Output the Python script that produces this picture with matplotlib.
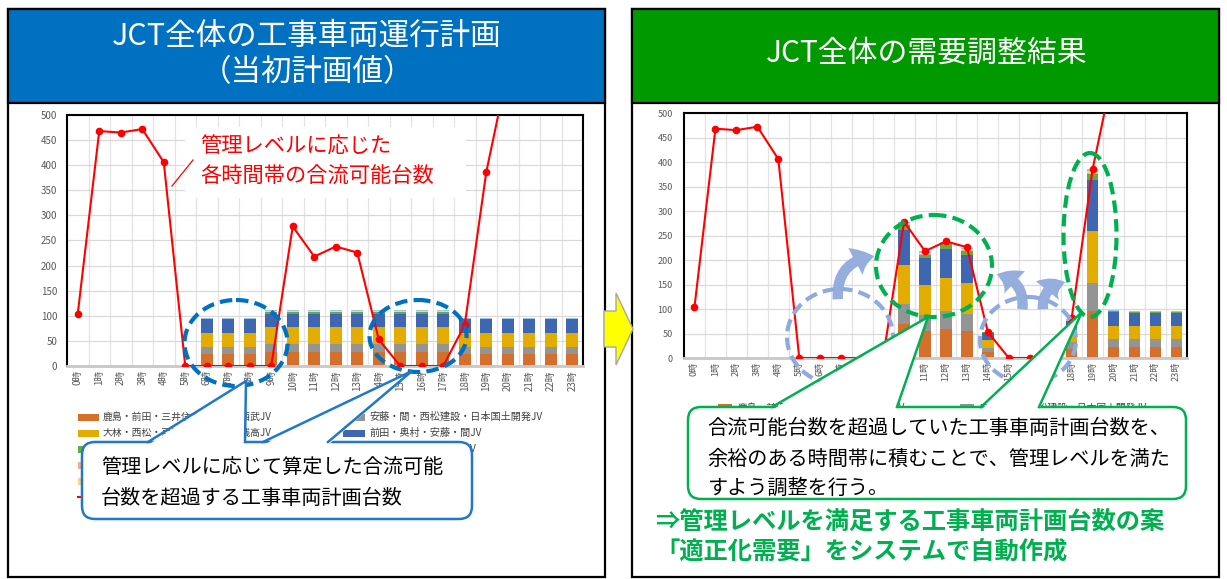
import numpy as np
import matplotlib
matplotlib.use('Agg')
import matplotlib.pyplot as plt
from matplotlib.patches import Rectangle, FancyBboxPatch, Ellipse, Polygon, FancyArrowPatch

plt.rcParams['font.family'] = ['Noto Sans CJK JP', 'DejaVu Sans']

W, H = 1227, 579

hours = [f"{h}時" for h in range(24)]

# 管理レベルに応じた各時間帯の合流可能台数
capacity = [104, 468, 465, 472, 406, 0, 0, 0, 0, 0, 278, 218, 238, 226, 53, 0,
            0, 0, 82, 386, 590, 600, 600, 600]

# JV別 工事車両計画台数（当初計画値）
plan_jv1 = [0, 0, 0, 0, 0, 0, 23, 23, 23, 28, 28, 28, 28, 28, 28, 28, 28, 28, 23, 23, 23, 23, 23, 23]
plan_jv2 = [0, 0, 0, 0, 0, 0, 15, 15, 15, 16, 16, 16, 16, 16, 16, 16, 16, 16, 15, 15, 15, 15, 15, 15]
plan_jv3 = [0, 0, 0, 0, 0, 0, 27, 27, 27, 33, 33, 33, 33, 33, 33, 33, 33, 33, 27, 27, 27, 27, 27, 27]
plan_jv4 = [0, 0, 0, 0, 0, 0, 28, 28, 28, 27, 27, 27, 27, 27, 27, 27, 27, 27, 28, 28, 28, 28, 28, 28]
plan_jv5 = [0, 0, 0, 0, 0, 0, 0, 0, 0, 3, 3, 3, 3, 3, 3, 3, 3, 3, 0, 0, 0, 0, 0, 0]
plan_jv6 = [0, 0, 0, 0, 0, 0, 3, 3, 3, 2, 2, 2, 2, 2, 2, 2, 2, 2, 3, 3, 3, 3, 3, 3]
plan_jv7 = [0, 0, 0, 0, 0, 0, 0, 0, 0, 1, 1, 1, 1, 1, 1, 1, 1, 1, 0, 0, 0, 0, 0, 0]
plan_jv8 = [0, 0, 0, 0, 0, 0, 0, 0, 0, 2, 2, 2, 2, 2, 2, 2, 2, 2, 0, 0, 0, 0, 0, 0]

# JV別 工事車両計画台数（需要調整後）
adj_jv1 = [0, 0, 0, 0, 0, 0, 0, 0, 0, 0, 70, 55, 60, 56, 12, 0, 0, 0, 19, 96, 23, 23, 23, 23]
adj_jv2 = [0, 0, 0, 0, 0, 0, 0, 0, 0, 0, 41, 32, 36, 34, 9, 0, 0, 0, 13, 57, 15, 15, 15, 15]
adj_jv3 = [0, 0, 0, 0, 0, 0, 0, 0, 0, 0, 78, 61, 67, 63, 16, 0, 0, 0, 17, 106, 27, 27, 27, 27]
adj_jv4 = [0, 0, 0, 0, 0, 0, 0, 0, 0, 0, 72, 57, 60, 57, 15, 0, 0, 0, 27, 105, 29, 27, 27, 27]
adj_jv5 = [0, 0, 0, 0, 0, 0, 0, 0, 0, 0, 10, 6, 9, 8, 1, 0, 0, 0, 0, 11, 1, 1, 1, 1]
adj_jv6 = [0, 0, 0, 0, 0, 0, 0, 0, 0, 0, 3, 3, 2, 3, 1, 0, 0, 0, 3, 4, 2, 2, 2, 2]
adj_jv7 = [0, 0, 0, 0, 0, 0, 0, 0, 0, 0, 2, 2, 1, 2, 0, 0, 0, 0, 0, 3, 0, 0, 0, 0]
adj_jv8 = [0, 0, 0, 0, 0, 0, 0, 0, 0, 0, 2, 2, 2, 2, 0, 0, 0, 0, 0, 4, 0, 0, 0, 0]

jv_names = ["鹿島・前田・三井住友・鉄建・西武JV", "安藤・間・西松建設・日本国土開発JV",
            "大林・西松・戸田・佐藤工業・銭高JV", "前田・奥村・安藤・間JV",
            "清水・熊谷・東急・竹中土木JV", "大成・安藤・鉄建・間JV",
            "鹿島・大林・清水JV", "大成・戸田・奥村JV"]
jv_colors = ['#D4702C', '#949494', '#E3AC00', '#3F66B0',
             '#6AA844', '#9DC3E6', '#F4AE8E', '#FFD47F']

# 積み上げ順（下から）
stack_order = [0, 1, 2, 3, 4, 6, 7, 5]

plan_series = [plan_jv1, plan_jv2, plan_jv3, plan_jv4, plan_jv5, plan_jv6, plan_jv7, plan_jv8]
adj_series = [adj_jv1, adj_jv2, adj_jv3, adj_jv4, adj_jv5, adj_jv6, adj_jv7, adj_jv8]

fig = plt.figure(figsize=(W / 100, H / 100), dpi=100)


def px_axes(x0, y0, x1, y1, **kw):
    return fig.add_axes([x0 / W, 1 - y1 / H, (x1 - x0) / W, (y1 - y0) / H], **kw)


# 背景（パネル枠・見出し）
bg = px_axes(0, 0, W, H, zorder=-5)
bg.set_xlim(0, W)
bg.set_ylim(H, 0)
bg.axis('off')
bg.add_patch(Rectangle((8, 9), 597, 568, fc='white', ec='black', lw=1.6))
bg.add_patch(Rectangle((8, 9), 597, 94, fc='#0070C0', ec='black', lw=1.6))
bg.add_patch(Rectangle((632, 9), 587, 568, fc='white', ec='black', lw=1.6))
bg.add_patch(Rectangle((632, 9), 587, 94, fc='#009900', ec='black', lw=1.6))
bg.text(307, 36, "JCT全体の工事車両運行計画", color='white', fontsize=22,
        ha='center', va='center')
bg.text(307, 73, "（当初計画値）", color='white', fontsize=22, ha='center', va='center')
bg.text(927, 53, "JCT全体の需要調整結果", color='white', fontsize=21.5,
        ha='center', va='center')


def draw_chart(ax, series, fs, ypad):
    x = np.arange(24)
    bottom = np.zeros(24)
    for i in stack_order:
        vals = np.array(series[i], dtype=float)
        ax.bar(x, vals, 0.55, bottom=bottom, color=jv_colors[i], zorder=2)
        bottom += vals
    ax.plot(x, capacity, color='#FF0000', lw=1.5, marker='o', ms=4.5, zorder=3)
    ax.set_xlim(-0.5, 23.5)
    ax.set_ylim(0, 500)
    ax.set_yticks(range(0, 501, 50))
    ax.set_xticks(x)
    ax.set_xticklabels(hours, rotation=90)
    ax.set_xticks(np.arange(0.5, 23.5, 1), minor=True)
    ax.tick_params(axis='both', which='both', length=0, labelsize=fs, colors='#595959')
    ax.tick_params(axis='y', pad=ypad)
    ax.tick_params(axis='x', pad=3)
    ax.grid(axis='y', which='major', color='#D9D9D9', lw=0.9, zorder=0)
    ax.grid(axis='x', which='minor', color='#E3E3E3', lw=0.9, zorder=0)
    ax.set_axisbelow(True)
    for s in ['left', 'top', 'right']:
        ax.spines[s].set_color('black')
        ax.spines[s].set_linewidth(1.5)
    ax.spines['bottom'].set_color('#C8C8C8')
    ax.spines['bottom'].set_linewidth(2)


ax1 = px_axes(67, 115, 583, 366)
draw_chart(ax1, plan_series, 7, 7)
ax2 = px_axes(684, 113, 1187, 358)
draw_chart(ax2, adj_series, 6.5, 8)

# 注記・吹き出し
ov = px_axes(0, 0, W, H, zorder=10)
ov.set_xlim(0, W)
ov.set_ylim(H, 0)
ov.axis('off')

# 凡例（左グラフ）: 3行目以降は吹き出しの下に隠れるのでマーカーのみ
row_y = [417, 433, 449, 465, 481, 497]
left_col = [0, 2, 4, 6, 7]
right_col = [1, 3, 5]
for r, i in enumerate(left_col):
    ov.add_patch(Rectangle((78, row_y[r] - 3.5), 21, 7, fc=jv_colors[i], ec='none', zorder=1))
    if r < 2:
        ov.text(103, row_y[r], jv_names[i], fontsize=7.1, color='#404040',
                va='center', zorder=1)
ov.plot([78, 99], [row_y[5], row_y[5]], color='#FF0000', lw=1.5, zorder=1)
for r, i in enumerate(right_col):
    ov.add_patch(Rectangle((343, row_y[r] - 3.5), 22, 7, fc=jv_colors[i], ec='none', zorder=1))
    if r < 2:
        ov.text(369, row_y[r], jv_names[i], fontsize=7.3, color='#404040',
                va='center', zorder=1)
ov.text(476, row_y[2], "V", fontsize=7.3, color='#404040', va='center',
        ha='right', zorder=1)

# 凡例（右グラフ、1行目のみ）
ov.add_patch(Rectangle((718, 404), 14, 7, fc=jv_colors[0], ec='none', zorder=1))
ov.text(738, 408, jv_names[0], fontsize=7, color='#404040', va='center', zorder=1)
ov.add_patch(Rectangle((960, 404), 14, 7, fc=jv_colors[1], ec='none', zorder=1))
ov.text(979, 408, jv_names[1], fontsize=7, color='#404040', va='center', zorder=1)

# 合流可能台数の注記
ov.add_patch(Rectangle((185, 127), 281, 71, fc='white', ec='none', zorder=1))
ov.plot([172, 193], [186, 160], color='#FF0000', lw=0.9, zorder=2)
ov.text(200, 147, "管理レベルに応じた", color='#FF0000', fontsize=15.3, va='center', zorder=3)
ov.text(200, 177, "各時間帯の合流可能台数", color='#FF0000', fontsize=15.3, va='center', zorder=3)

# 破線の楕円
dash = (0, (3, 1.5))
for (cx, cy, w, h) in [(236, 343, 103, 86), (418, 336, 97, 72)]:
    ov.add_patch(Ellipse((cx, cy), w, h, fill=False, ec='#0070C0', lw=3, ls=dash, zorder=4))
for (cx, cy, w, h) in [(840, 337, 106, 96), (1028, 340, 96, 86)]:
    ov.add_patch(Ellipse((cx, cy), w, h, fill=False, ec='#8FAADC', lw=3, ls=dash, zorder=4))
for (cx, cy, w, h) in [(934, 266, 116, 102), (1090, 235, 53, 164)]:
    ov.add_patch(Ellipse((cx, cy), w, h, fill=False, ec='#00B050', lw=3, ls=dash, zorder=4))

# 積み替えを示す曲がり矢印
arrow_style = "simple,head_length=1.4,head_width=2.2,tail_width=0.75"
for start, end, rad in [((838, 302), (877, 256), -0.5),
                        ((1022, 312), (994, 274), 0.5),
                        ((1043, 312), (1068, 282), -0.5)]:
    ov.add_patch(FancyArrowPatch(start, end, connectionstyle=f"arc3,rad={rad}",
                                 arrowstyle=arrow_style, mutation_scale=10,
                                 fc='#8FAADC', ec='none', alpha=0.95, zorder=4.5))


def callout(x0, y0, x1, y1, pointers, edge):
    ov.add_patch(FancyBboxPatch((x0, y0), x1 - x0, y1 - y0,
                                boxstyle="round,pad=0,rounding_size=13",
                                fc='white', ec=edge, lw=1.8, zorder=5))
    for bx1, tip, bx2 in pointers:
        ov.add_patch(Polygon([(bx1, y0 + 3), tip, (bx2, y0 + 3)], closed=True,
                             fc='white', ec='none', zorder=6))
        ov.plot([bx1, tip[0], bx2], [y0, tip[1], y0], color=edge, lw=1.8,
                solid_joinstyle='miter', zorder=6.5)


callout(82, 442, 472, 519, [(148, (246, 381), 245), (263, (412, 371), 328)], '#1F78C8')
ov.text(101, 467, "管理レベルに応じて算定した合流可能", fontsize=14.5, va='center', zorder=7)
ov.text(101, 498, "台数を超過する工事車両計画台数", fontsize=14.5, va='center', zorder=7)

callout(688, 407, 1186, 499, [(772, (928, 317), 897), (981, (1082, 312), 1039)], '#00B050')
ov.text(707, 428, "合流可能台数を超過していた工事車両計画台数を、", fontsize=14.5,
        va='center', zorder=7)
ov.text(707, 459, "余裕のある時間帯に積むことで、管理レベルを満た", fontsize=14.5,
        va='center', zorder=7)
ov.text(707, 488, "すよう調整を行う。", fontsize=14.5, va='center', zorder=7)

ov.text(655, 522, "⇒管理レベルを満足する工事車両計画台数の案", fontsize=17.5,
        fontweight='bold', color='#00B050', va='center', zorder=7)
ov.text(655, 552, "「適正化需要」をシステムで自動作成", fontsize=17.5,
        fontweight='bold', color='#00B050', va='center', zorder=7)

# パネル間の矢印
ov.add_patch(Polygon([(604, 311), (616, 311), (616, 293), (633, 329),
                      (616, 365), (616, 347), (604, 347)], closed=True,
                     fc='#FFFF00', ec='#A6A6A6', lw=1, zorder=8))

fig.savefig('out.png', dpi=100)
